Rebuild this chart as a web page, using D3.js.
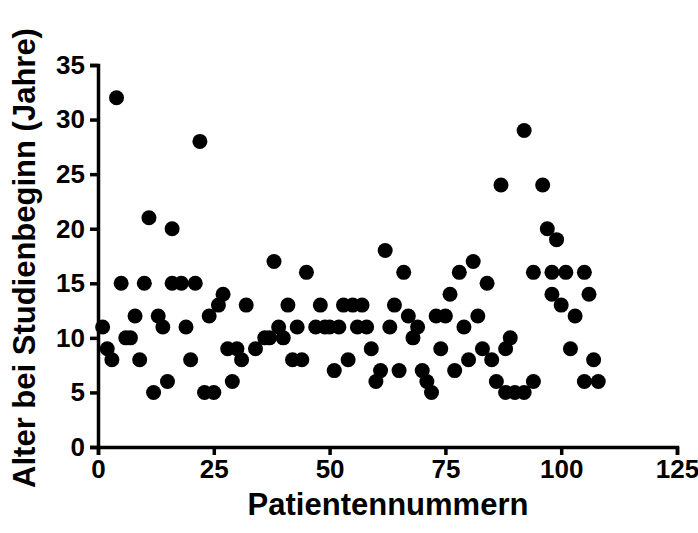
<!DOCTYPE html>
<html>
<head>
<meta charset="utf-8">
<script src="https://cdn.jsdelivr.net/npm/d3@7"></script>
<style>
  body { margin: 0; background: #fff; }
  text { font-family: "Liberation Sans", Arial, sans-serif; font-weight: bold; }
</style>
</head>
<body>
<svg id="chart" width="698" height="533"></svg>
<script>
// patient number and age at study start
const patients = [1, 2, 3, 4, 5, 6, 7, 8, 9, 10, 11, 12, 13, 14, 15, 16, 16, 18, 19, 20,
  21, 22, 23, 24, 25, 26, 27, 28, 29, 30, 31, 32, 34, 36, 37, 38, 39, 40, 41, 42,
  43, 44, 45, 47, 48, 49, 50, 51, 52, 53, 54, 55, 56, 57, 58, 59, 60, 61, 62, 63,
  64, 65, 66, 67, 68, 69, 70, 71, 72, 73, 74, 75, 76, 77, 78, 79, 80, 81, 82, 83,
  84, 85, 86, 87, 88, 88, 89, 90, 92, 92, 94, 94, 96, 97, 98, 98, 99, 100, 101, 102,
  103, 105, 105, 106, 107, 108]
const ages = [11, 9, 8, 32, 15, 10, 10, 12, 8, 15, 21, 5, 12, 11, 6, 20, 15, 15, 11, 8,
  15, 28, 5, 12, 5, 13, 14, 9, 6, 9, 8, 13, 9, 10, 10, 17, 11, 10, 13, 8,
  11, 8, 16, 11, 13, 11, 11, 7, 11, 13, 8, 13, 11, 13, 11, 9, 6, 7, 18, 11,
  13, 7, 16, 12, 10, 11, 7, 6, 5, 12, 9, 12, 14, 7, 16, 11, 8, 17, 12, 9,
  15, 8, 6, 24, 9, 5, 10, 5, 29, 5, 16, 6, 24, 20, 16, 14, 19, 13, 16, 9,
  12, 16, 6, 14, 8, 6]

const xTicks = [0, 25, 50, 75, 100, 125]
const yTicks = [0, 5, 10, 15, 20, 25, 30, 35]
const xTitle = "Patientennummern"
const yTitle = "Alter bei Studienbeginn (Jahre)"

const svg = d3.select("#chart")

const x = d3.scaleLinear().domain([0, 125]).range([98, 677])
const y = d3.scaleLinear().domain([0, 35]).range([447, 65])

// axes
svg.append("g")
  .attr("transform", `translate(0,${y(0)})`)
  .call(d3.axisBottom(x).tickValues(xTicks).tickSizeOuter(0).tickSize(8).tickPadding(5))

svg.append("g")
  .attr("transform", `translate(${x(0)},0)`)
  .call(d3.axisLeft(y).tickValues(yTicks).tickSizeOuter(0).tickSize(8).tickPadding(5))

svg.selectAll(".domain, .tick line")
  .attr("stroke", "#000")
  .attr("stroke-width", 3.5)

svg.selectAll(".tick text")
  .attr("fill", "#000")
  .style("font-size", "26px")

// points
svg.append("g")
  .selectAll("circle")
  .data(patients)
  .join("circle")
  .attr("cx", d => x(d))
  .attr("cy", (d, i) => y(ages[i]))
  .attr("r", 7.5)
  .attr("fill", "#000")

// titles
svg.append("text")
  .attr("x", 388)
  .attr("y", 515)
  .attr("text-anchor", "middle")
  .style("font-size", "31px")
  .text(xTitle)

svg.append("text")
  .attr("transform", "translate(35,258) rotate(-90)")
  .attr("text-anchor", "middle")
  .style("font-size", "31px")
  .text(yTitle)
</script>
</body>
</html>
